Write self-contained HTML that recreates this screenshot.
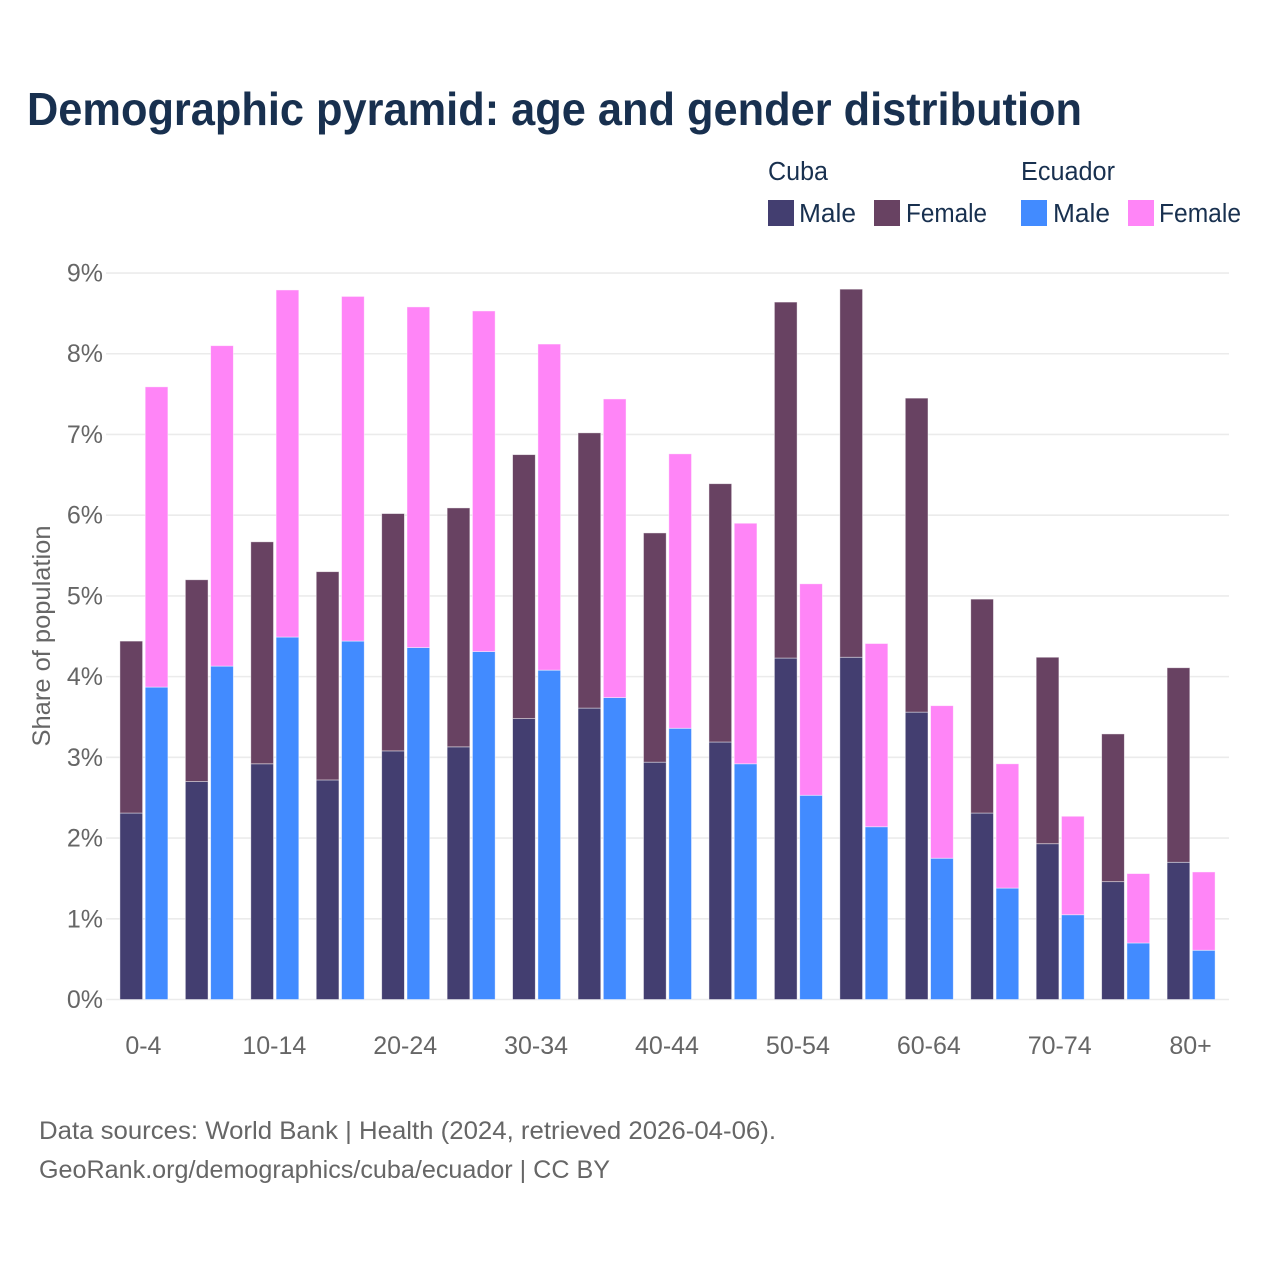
<!DOCTYPE html>
<html lang="en">
<head>
<meta charset="utf-8">
<title>Demographic pyramid: age and gender distribution</title>
<style>
html,body{margin:0;padding:0;background:#fff;}
svg{display:block;font-family:"Liberation Sans",sans-serif;}
</style>
</head>
<body>
<svg id="chart" xmlns="http://www.w3.org/2000/svg" width="1280" height="1280" viewBox="0 0 1280 1280">
  <rect x="0" y="0" width="1280" height="1280" fill="#ffffff"/>
  <text x="27" y="125" font-size="46" font-weight="700" fill="#18304f" textLength="1055" lengthAdjust="spacingAndGlyphs">Demographic pyramid: age and gender distribution</text>

  <g font-size="25.5" fill="#18304f">
    <text x="768" y="180" textLength="60" lengthAdjust="spacingAndGlyphs">Cuba</text>
    <text x="1021" y="180" textLength="94" lengthAdjust="spacingAndGlyphs">Ecuador</text>
    <rect x="768" y="200" width="26" height="26" fill="#433e70"/>
    <text x="799" y="222" textLength="57" lengthAdjust="spacingAndGlyphs">Male</text>
    <rect x="874" y="200" width="26" height="26" fill="#684262"/>
    <text x="906" y="222" textLength="81" lengthAdjust="spacingAndGlyphs">Female</text>
    <rect x="1021" y="200" width="26" height="26" fill="#428bff"/>
    <text x="1053" y="222" textLength="57" lengthAdjust="spacingAndGlyphs">Male</text>
    <rect x="1128" y="200" width="26" height="26" fill="#ff85f7"/>
    <text x="1159" y="222" textLength="82" lengthAdjust="spacingAndGlyphs">Female</text>
  </g>

  <g id="grid"></g>
  <g id="yticks" font-size="25" fill="#666666" text-anchor="end"></g>
  <g id="bars"></g>
  <g id="xticks" font-size="25" fill="#666666" text-anchor="middle"></g>

  <text transform="translate(50,636) rotate(-90)" font-size="25" fill="#666666" text-anchor="middle" textLength="221" lengthAdjust="spacingAndGlyphs">Share of population</text>

  <g font-size="25" fill="#666666">
    <text x="39" y="1139" textLength="737" lengthAdjust="spacingAndGlyphs">Data sources: World Bank | Health (2024, retrieved 2026-04-06).</text>
    <text x="39" y="1178" textLength="571" lengthAdjust="spacingAndGlyphs">GeoRank.org/demographics/cuba/ecuador | CC BY</text>
  </g>
</svg>
<script>
const ageGroups = ["0-4","5-9","10-14","15-19","20-24","25-29","30-34","35-39","40-44","45-49","50-54","55-59","60-64","65-69","70-74","75-79","80+"];
const xTickLabels = ["0-4","10-14","20-24","30-34","40-44","50-54","60-64","70-74","80+"];
const yTickValues = [0,1,2,3,4,5,6,7,8,9];
const cubaMale = [2.31,2.70,2.92,2.72,3.08,3.13,3.48,3.61,2.94,3.19,4.23,4.24,3.56,2.31,1.93,1.46,1.70];
const cubaFemale = [2.13,2.50,2.75,2.58,2.94,2.96,3.27,3.41,2.84,3.20,4.41,4.56,3.89,2.65,2.31,1.83,2.41];
const ecuadorMale = [3.87,4.13,4.49,4.44,4.36,4.31,4.08,3.74,3.36,2.92,2.53,2.14,1.75,1.38,1.05,0.70,0.61];
const ecuadorFemale = [3.72,3.97,4.30,4.27,4.22,4.22,4.04,3.70,3.40,2.98,2.62,2.27,1.89,1.54,1.22,0.86,0.97];

const NS = "http://www.w3.org/2000/svg";
const yScale = function (v) { return 999.5 - v * 80.72; };
const xScale = function (i) { return 143.9 + i * 65.45; };
const BAR_W = 22.7;
const BAR_GAP = 1.3;

function mk(tag, attrs, parent) {
  const el = document.createElementNS(NS, tag);
  Object.keys(attrs).forEach(function (k) { el.setAttribute(k, attrs[k]); });
  parent.appendChild(el);
  return el;
}

const grid = document.getElementById("grid");
const yticks = document.getElementById("yticks");
yTickValues.forEach(function (v) {
  const line = mk("line", {x1: 106, x2: 1229, y1: yScale(v), y2: yScale(v), stroke: "#ebebeb", "stroke-width": 1.6}, grid);
  
  
  const t = mk("text", {x: 103, y: yScale(v) + 8.5}, yticks);
  
  
  t.textContent = v + "%";
});

const bars = document.getElementById("bars");
function drawBar(x, y0, value, color) {
  const top = yScale(y0 + value);
  const r = mk("rect", {x: x, y: top, width: BAR_W, height: yScale(y0) - top, fill: color, stroke: "#ffffff", "stroke-opacity": 0.55, "stroke-width": 0.8}, bars);
  return r;
}
ageGroups.forEach(function (g, i) {
  const cx = xScale(i);
  const cubaX = cx - BAR_GAP - BAR_W;
  const ecuadorX = cx + BAR_GAP;
  const a = drawBar(cubaX, 0, cubaMale[i], "#433e70");
  
  
  const b = drawBar(cubaX, cubaMale[i], cubaFemale[i], "#684262");
  
  
  const c = drawBar(ecuadorX, 0, ecuadorMale[i], "#428bff");
  
  
  const d = drawBar(ecuadorX, ecuadorMale[i], ecuadorFemale[i], "#ff85f7");
  
  
});

const xticks = document.getElementById("xticks");
xTickLabels.forEach(function (label) {
  const t = mk("text", {x: xScale(ageGroups.indexOf(label)) - 0.5, y: 1054}, xticks);
  
  
  t.textContent = label;
});
</script>
</body>
</html>
